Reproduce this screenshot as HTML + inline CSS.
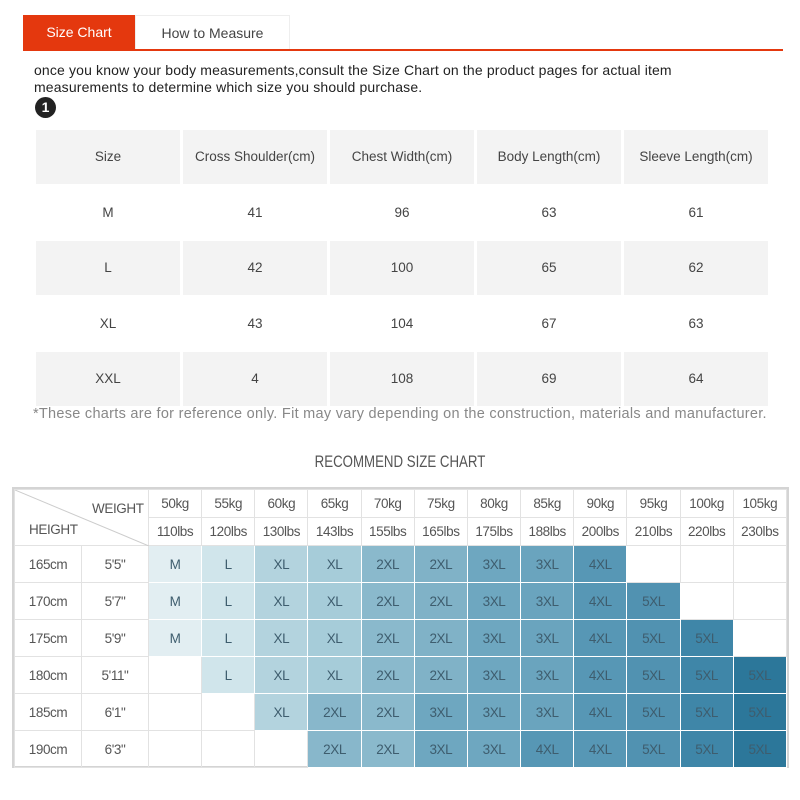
<!DOCTYPE html>
<html><head><meta charset="utf-8"><style>
*{margin:0;padding:0;box-sizing:border-box}
body{width:800px;height:800px;background:#fff;position:relative;font-family:"Liberation Sans",sans-serif;overflow:hidden}
.abs{position:absolute}
.tab1{left:23px;top:15px;width:112px;height:35px;background:#e4380e;color:#fff;font-size:14px;line-height:35px;text-align:center}
.tab2{left:135px;top:15px;width:155px;height:35px;border:1px solid #eee;border-bottom:none;color:#444;font-size:14px;line-height:34px;text-align:center}
.line{left:23px;top:49px;width:760px;height:2px;background:#e4380e}
.intro{left:34px;top:62px;font-size:14px;line-height:17px;color:#222;width:690px;letter-spacing:0.15px}
.num{left:35px;top:97px;width:21px;height:21px;border-radius:50%;background:#222;color:#fff;font-size:14px;font-weight:bold;text-align:center;line-height:21px}
table.t1{position:absolute;left:33px;top:128px;border-collapse:separate;border-spacing:3px 2px;font-size:13.5px;color:#444}
table.t1 td{width:144px;height:53.5px;text-align:center}
table.t1 tr.g td{background:#f3f3f3}
.note{left:33px;top:406px;font-size:14.5px;color:#888;letter-spacing:0.28px}
.title{left:0;top:452px;width:800px;text-align:center;font-size:17px;color:#555;transform:scaleX(0.78)}
.wrap{position:absolute;left:12px;top:487px;width:777px;height:281px;border:2px solid #d4d4d4}
table.t2{width:773px;height:277px;border-collapse:collapse;table-layout:fixed;font-size:13.5px;letter-spacing:-0.4px;color:#555}
table.t2 td{border:1px solid #e2e2e2;text-align:center;color:#555}
table.t2 tr.h td{height:28px}
table.t2 tr.r td{height:37px}
table.t2 td.c{border:1px solid #fff;color:#3e5d6e}
.a{background:#e2eef2}.b{background:#d0e5eb}.c1{background:#b3d3de}.d{background:#a6ccd9}
.e{background:#8ab9cc}.f{background:#80b2c7}.g{background:#6ea7c0}.h2{background:#6aa4be}
.i{background:#5797b5}.j{background:#5192b1}.k{background:#3f86a8}.l{background:#2c779a}
.d2{background:#88b7cb}
</style></head><body>
<div class="abs tab1">Size Chart</div>
<div class="abs tab2">How to Measure</div>
<div class="abs line"></div>
<div class="abs intro">once you know your body measurements,consult the Size Chart on the product pages for actual item measurements to determine which size you should purchase.</div>
<div class="abs num">1</div>
<table class="t1">
<tr class="g"><td>Size</td><td>Cross Shoulder(cm)</td><td>Chest Width(cm)</td><td>Body Length(cm)</td><td>Sleeve Length(cm)</td></tr>
<tr><td>M</td><td>41</td><td>96</td><td>63</td><td>61</td></tr>
<tr class="g"><td>L</td><td>42</td><td>100</td><td>65</td><td>62</td></tr>
<tr><td>XL</td><td>43</td><td>104</td><td>67</td><td>63</td></tr>
<tr class="g"><td>XXL</td><td>4</td><td>108</td><td>69</td><td>64</td></tr>
</table>
<div class="abs note">*These charts are for reference only. Fit may vary depending on the construction, materials and manufacturer.</div>
<div class="abs title">RECOMMEND SIZE CHART</div>
<div class="wrap">
<table class="t2">
<colgroup><col style="width:67px"><col style="width:67px"><col span="12"></colgroup>
<tr class="h"><td colspan="2" rowspan="2" style="position:relative;padding:0">
<svg width="134" height="56" style="position:absolute;left:0;top:0"><line x1="0" y1="0" x2="134" y2="56" stroke="#ccc" stroke-width="1"/></svg>
<span style="position:absolute;left:77px;top:11px">WEIGHT</span>
<span style="position:absolute;left:14px;top:32px">HEIGHT</span></td>
<td>50kg</td><td>55kg</td><td>60kg</td><td>65kg</td><td>70kg</td><td>75kg</td><td>80kg</td><td>85kg</td><td>90kg</td><td>95kg</td><td>100kg</td><td>105kg</td></tr>
<tr class="h"><td>110lbs</td><td>120lbs</td><td>130lbs</td><td>143lbs</td><td>155lbs</td><td>165lbs</td><td>175lbs</td><td>188lbs</td><td>200lbs</td><td>210lbs</td><td>220lbs</td><td>230lbs</td></tr>
<tr class="r"><td>165cm</td><td>5'5"</td><td class="c a">M</td><td class="c b">L</td><td class="c c1">XL</td><td class="c d">XL</td><td class="c e">2XL</td><td class="c f">2XL</td><td class="c g">3XL</td><td class="c h2">3XL</td><td class="c i">4XL</td><td></td><td></td><td></td></tr>
<tr class="r"><td>170cm</td><td>5'7"</td><td class="c a">M</td><td class="c b">L</td><td class="c c1">XL</td><td class="c d">XL</td><td class="c e">2XL</td><td class="c f">2XL</td><td class="c g">3XL</td><td class="c h2">3XL</td><td class="c i">4XL</td><td class="c j">5XL</td><td></td><td></td></tr>
<tr class="r"><td>175cm</td><td>5'9"</td><td class="c a">M</td><td class="c b">L</td><td class="c c1">XL</td><td class="c d">XL</td><td class="c e">2XL</td><td class="c f">2XL</td><td class="c g">3XL</td><td class="c h2">3XL</td><td class="c i">4XL</td><td class="c j">5XL</td><td class="c k">5XL</td><td></td></tr>
<tr class="r"><td>180cm</td><td>5'11"</td><td></td><td class="c b">L</td><td class="c c1">XL</td><td class="c d">XL</td><td class="c e">2XL</td><td class="c f">2XL</td><td class="c g">3XL</td><td class="c h2">3XL</td><td class="c i">4XL</td><td class="c j">5XL</td><td class="c k">5XL</td><td class="c l">5XL</td></tr>
<tr class="r"><td>185cm</td><td>6'1"</td><td></td><td></td><td class="c c1">XL</td><td class="c d2">2XL</td><td class="c e">2XL</td><td class="c g">3XL</td><td class="c g">3XL</td><td class="c h2">3XL</td><td class="c i">4XL</td><td class="c j">5XL</td><td class="c k">5XL</td><td class="c l">5XL</td></tr>
<tr class="r"><td>190cm</td><td>6'3"</td><td></td><td></td><td></td><td class="c d2">2XL</td><td class="c e">2XL</td><td class="c g">3XL</td><td class="c g">3XL</td><td class="c i">4XL</td><td class="c i">4XL</td><td class="c j">5XL</td><td class="c k">5XL</td><td class="c l">5XL</td></tr>
</table>
</div>
</body></html>
